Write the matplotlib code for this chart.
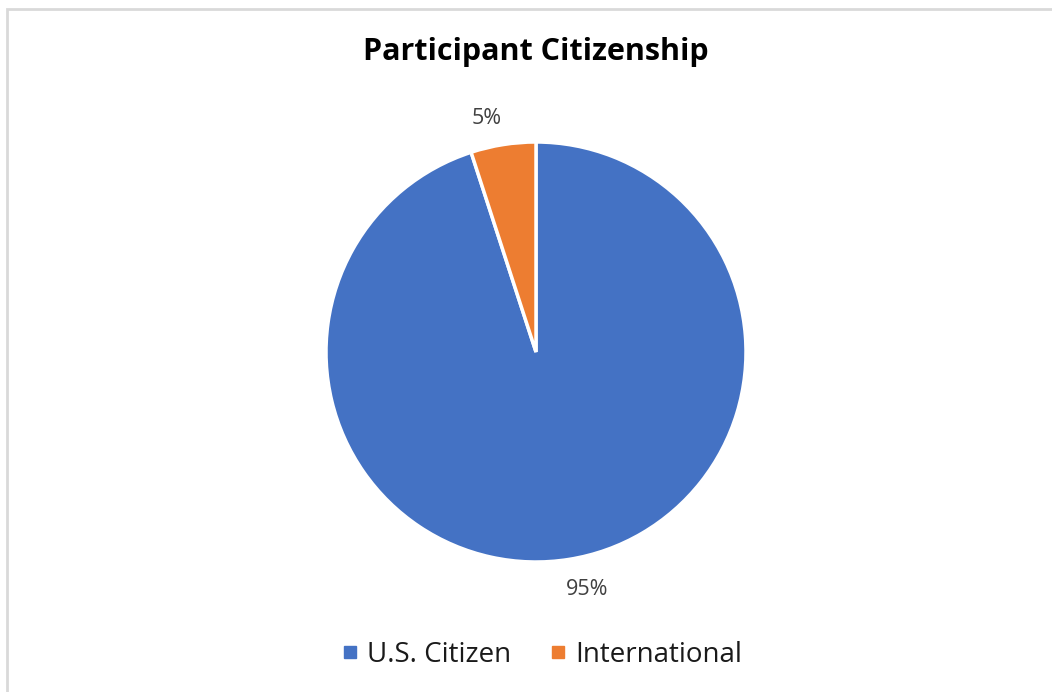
import matplotlib.pyplot as plt
import matplotlib.patches as pat
import matplotlib.lines as mlines

plt.rcParams['font.family'] = ['Open Sans', 'DejaVu Sans']

labels = ["U.S. Citizen", "International"]
shares = [95, 5]
colors = ["#4472C4", "#ED7D31"]

W, H = 1052, 692
fig = plt.figure(figsize=(W / 100, H / 100), dpi=100)

# light gray chart-area border (runs off the right and bottom edges)
fig.patches.append(pat.Rectangle((6.5 / W, -0.05), 1.1, 1 - 8.5 / H + 0.05,
                                 transform=fig.transFigure, fill=False,
                                 edgecolor="#d9d9d9", linewidth=2))

cx, cy, r = 536, 352, 210
ax = fig.add_axes([(cx - r) / W, (H - cy - r) / H, 2 * r / W, 2 * r / H])
wedges, texts, autotexts = ax.pie(
    shares, colors=colors, startangle=90, counterclock=False,
    autopct='%1.0f%%', pctdistance=1.15, radius=1,
    wedgeprops=dict(edgecolor="white", linewidth=2.5),
    textprops=dict(color="#404040", fontsize=15.5))
autotexts[0].set_position((0.243, -1.133))
autotexts[1].set_position((-0.233, 1.114))
ax.set_xlim(-1, 1)
ax.set_ylim(-1, 1)

fig.text(cx / W, 1 - 52 / H, "Participant Citizenship", ha="center",
         va="center", fontsize=22, fontweight="bold", color="black")

handles = [mlines.Line2D([], [], marker='s', linestyle='none', color=c,
                         markersize=9) for c in colors]
fig.legend(handles, labels, loc="center", bbox_to_anchor=((cx + 7) / W, 1 - 655 / H),
           ncol=2, frameon=False, fontsize=20, handlelength=0.45,
           handletextpad=0.4, columnspacing=1.45, labelcolor="#1a1a1a")

plt.savefig("out.png", dpi=100)
